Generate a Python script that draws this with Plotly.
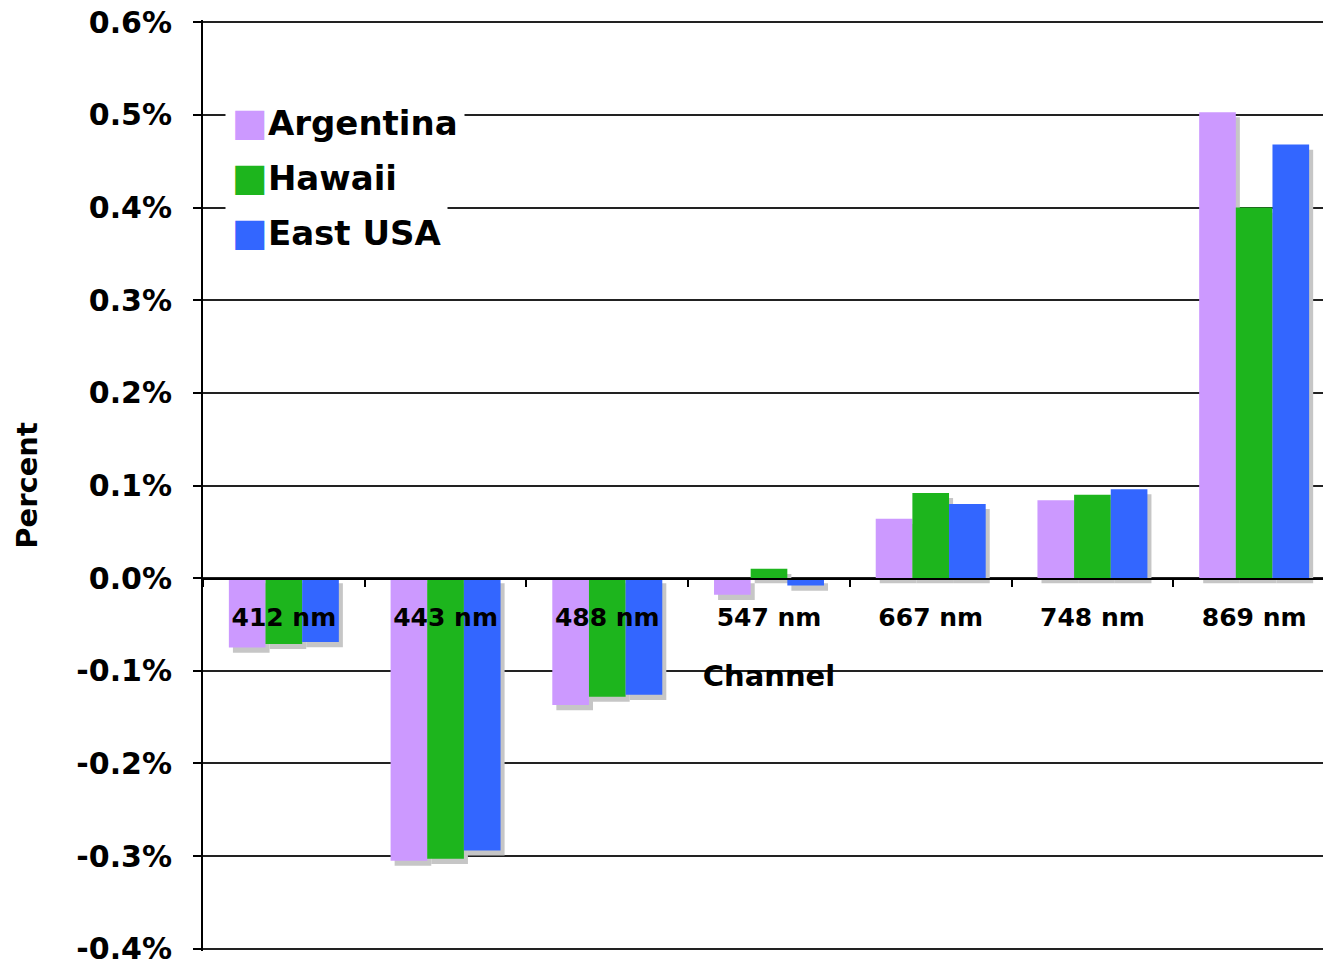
import plotly.graph_objects as go

channels = ["412 nm", "443 nm", "488 nm", "547 nm", "667 nm", "748 nm", "869 nm"]
series_names = ["Argentina", "Hawaii", "East USA"]
argentina = [-0.075, -0.305, -0.137, -0.018, 0.064, 0.084, 0.503]
hawaii = [-0.071, -0.303, -0.128, 0.010, 0.092, 0.090, 0.400]
east_usa = [-0.069, -0.294, -0.126, -0.008, 0.080, 0.096, 0.468]
colors = ["#CC99FF", "#1DB51D", "#3366FF"]
y_ticks = [-0.4, -0.3, -0.2, -0.1, 0.0, 0.1, 0.2, 0.3, 0.4, 0.5, 0.6]
y_tick_labels = ["-0.4%", "-0.3%", "-0.2%", "-0.1%", "0.0%", "0.1%", "0.2%", "0.3%", "0.4%", "0.5%", "0.6%"]

FONT = "DejaVu Sans"
series_vals = [argentina, hawaii, east_usa]

# bar geometry (category units): 3 bars side by side, group width 0.68
BAR_W = 0.68 / 3
offsets = [-0.34 + i * BAR_W for i in range(3)]
SHADOW_DX = 0.025   # shadow shift to the right (category units)
SHADOW_DY = 0.0055  # shadow shift downward (y units)

fig = go.Figure()
# drop shadows first (behind bars)
for vals, off in zip(series_vals, offsets):
    fig.add_trace(go.Bar(x=channels, y=vals, base=-SHADOW_DY, width=BAR_W, offset=off + SHADOW_DX,
                         marker=dict(color="#c6c6c6", line=dict(width=0)),
                         showlegend=False, hoverinfo="skip"))
for name, vals, col, off in zip(series_names, series_vals, colors, offsets):
    fig.add_trace(go.Bar(x=channels, y=vals, name=name, width=BAR_W, offset=off,
                         marker=dict(color=col, line=dict(width=0)),
                         showlegend=False))

# legend built as annotations (large swatches)
for i, (name, col) in enumerate(zip(series_names, colors)):
    fig.add_annotation(
        xref="paper", yref="paper", x=0.019, y=0.890 - i * 0.059,
        xanchor="left", yanchor="middle", showarrow=False,
        text=f'<span style="color:{col};font-size:38px">■</span><b>{name}</b>',
        font=dict(family=FONT, size=34, color="black"),
        bgcolor="white", borderpad=6,
    )

fig.update_layout(
    barmode="overlay",
    width=1331, height=964,
    margin=dict(l=195, r=4, t=12, b=21),
    plot_bgcolor="white", paper_bgcolor="white",
    font=dict(family=FONT, color="black"),
    xaxis=dict(
        anchor="free", position=0.4, automargin=False,
        showline=True, linecolor="black", linewidth=2,
        ticks="outside", tickson="boundaries", ticklen=7, tickwidth=2, tickcolor="black",
        tickfont=dict(family=FONT, size=25, color="black", weight="bold"),
        ticklabelstandoff=16,
        showgrid=False,
        title=dict(text="<b>Channel</b>", font=dict(family=FONT, size=29), standoff=34),
    ),
    yaxis=dict(
        range=[-0.4025, 0.6025], tickvals=y_ticks, ticktext=y_tick_labels, automargin=False,
        showgrid=True, gridcolor="#222222", gridwidth=1.5, zeroline=False,
        showline=True, linecolor="black", linewidth=2,
        ticks="outside", ticklen=8, tickwidth=2, tickcolor="black",
        tickfont=dict(family=FONT, size=30, color="black", weight="bold"),
        ticklabelstandoff=15, ticklabeloverflow="allow",
        title=dict(text="<b>Percent</b>", font=dict(family=FONT, size=29), standoff=30),
    ),
)

fig.write_html("out.html")
